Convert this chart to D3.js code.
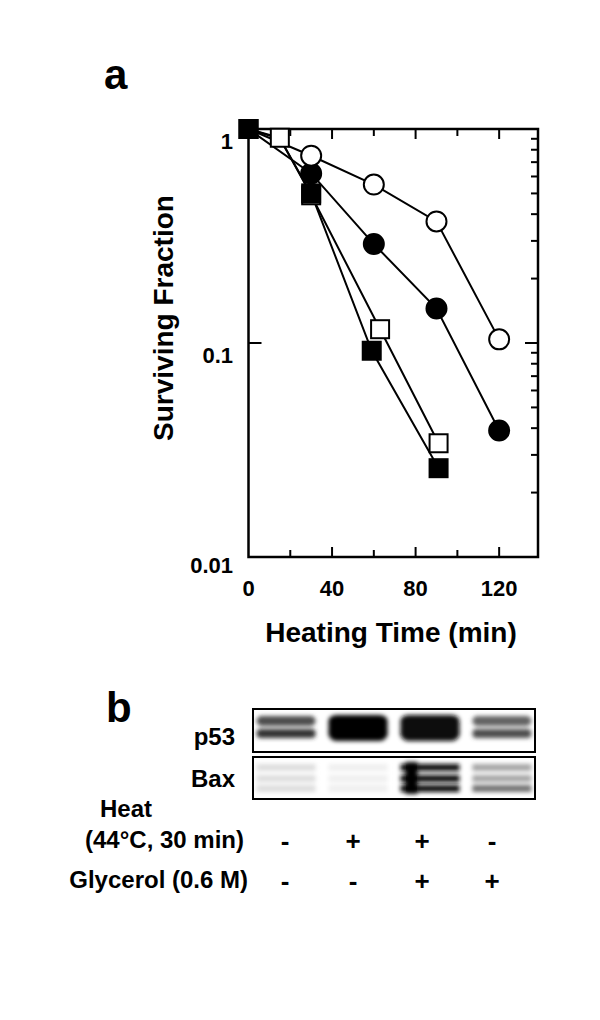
<!DOCTYPE html>
<html><head><meta charset="utf-8">
<script src="https://cdn.jsdelivr.net/npm/d3@7"></script>
<style>body{margin:0;background:#fff}text{font-family:Arial,"Liberation Sans",sans-serif;font-weight:bold;fill:#000}</style>
</head><body><svg id="c" width="600" height="1020"></svg>
<script>
// Panel a data
const timeOpenCircle = [0, 30, 60, 90, 120];
const openCircle = [1, 0.75, 0.55, 0.37, 0.104];
const timeFilledCircle = [0, 30, 60, 90, 120];
const filledCircle = [1, 0.62, 0.29, 0.145, 0.039];
const timeOpenSquare = [0, 15, 30, 63, 91];
const openSquare = [1, 0.91, 0.49, 0.116, 0.034];
const timeFilledSquare = [0, 15, 30, 59, 91];
const filledSquare = [1, 0.9, 0.5, 0.092, 0.026];
const xTicks = [0, 40, 80, 120];
const yTicks = [1, 0.1, 0.01];
// Panel b data
const lanes = ["1", "2", "3", "4"];
const heatSigns = ["-", "+", "+", "-"];
const glycerolSigns = ["-", "-", "+", "+"];
const p53Intensity = [0.8, 1.0, 0.95, 0.72];
const baxIntensity = [0.22, 0.12, 0.95, 0.45];

const svg = d3.select("#c");
const x = d3.scaleLinear().domain([0, 138.6]).range([248.5, 538]);
const y = d3.scaleLog().domain([0.01, 1]).range([557, 129]);

svg.append("text").attr("x", 104).attr("y", 89).attr("font-size", 42).text("a");

svg.append("rect").attr("x", x(0)).attr("y", y(1)).attr("width", x(138.6) - x(0)).attr("height", y(0.01) - y(1))
  .attr("fill", "none").attr("stroke", "#000").attr("stroke-width", 2.5);

d3.range(20, 138, 20).forEach(t => {
  const L = t % 40 === 0 ? 10 : 7;
  svg.append("line").attr("x1", x(t)).attr("x2", x(t)).attr("y1", y(0.01)).attr("y2", y(0.01) - L).attr("stroke", "#000").attr("stroke-width", 2);
  svg.append("line").attr("x1", x(t)).attr("x2", x(t)).attr("y1", y(1)).attr("y2", y(1) + L).attr("stroke", "#000").attr("stroke-width", 2);
});
const yt = [];
[0.01, 0.1].forEach(d => { for (let k = 1; k <= 9; k++) yt.push(d * k); });
yt.push(1);
yt.forEach(v => {
  const major = Math.abs(Math.log10(v) - Math.round(Math.log10(v))) < 1e-6;
  const L = major ? 13 : 7;
  svg.append("line").attr("x1", x(138.6)).attr("x2", x(138.6) - L).attr("y1", y(v)).attr("y2", y(v)).attr("stroke", "#000").attr("stroke-width", 2);
  if (major) svg.append("line").attr("x1", x(0)).attr("x2", x(0) + L).attr("y1", y(v)).attr("y2", y(v)).attr("stroke", "#000").attr("stroke-width", 2);
});
xTicks.forEach(t => svg.append("text").attr("x", x(t)).attr("y", 596).attr("text-anchor", "middle").attr("font-size", 22).text(t));
yTicks.forEach(v => svg.append("text").attr("x", 233).attr("y", y(v) + (v === 0.01 ? 16 : 20)).attr("text-anchor", "end").attr("font-size", 22).text(v));

svg.append("text").attr("x", 391).attr("y", 642).attr("text-anchor", "middle").attr("font-size", 28).text("Heating Time (min)");
svg.append("text").attr("transform", "translate(173,318) rotate(-90)").attr("text-anchor", "middle").attr("font-size", 28).text("Surviving Fraction");

const line = d3.line().x(d => x(d[0])).y(d => y(d[1]));
const series = [
  {t: timeOpenSquare, v: openSquare, shape: "sq", fill: "#fff"},
  {t: timeFilledSquare, v: filledSquare, shape: "sq", fill: "#000"},
  {t: timeFilledCircle, v: filledCircle, shape: "ci", fill: "#000"},
  {t: timeOpenCircle, v: openCircle, shape: "ci", fill: "#fff"}
];
series.forEach(s => {
  const pts = s.t.map((t, i) => [t, s.v[i]]);
  svg.append("path").attr("d", line(pts)).attr("fill", "none").attr("stroke", "#000").attr("stroke-width", 2);
});
series.forEach(s => {
  s.t.forEach((t, i) => {
    const v = s.v[i];
    if (s.shape === "ci") {
      if (i === 0) return;
      svg.append("circle").attr("cx", x(t)).attr("cy", y(v)).attr("r", 10).attr("fill", s.fill).attr("stroke", "#000").attr("stroke-width", 2);
    } else {
      if (i === 1 && s.fill === "#000") return;
      svg.append("rect").attr("x", x(t) - 9).attr("y", y(v) - 9).attr("width", 18).attr("height", 18).attr("fill", s.fill).attr("stroke", "#000").attr("stroke-width", 2);
    }
  });
});

// Panel b
svg.append("text").attr("x", 106).attr("y", 722).attr("font-size", 42).text("b");
const defs = svg.append("defs");
defs.append("filter").attr("id", "bl").attr("x", "-20%").attr("y", "-50%").attr("width", "140%").attr("height", "200%")
  .append("feGaussianBlur").attr("stdDeviation", 2.2);
const lx = d3.scaleBand().domain(lanes).range([253, 535]).paddingInner(0.18).paddingOuter(0.05);
const grey = v => d3.interpolateGreys(Math.min(1, v));
const gb = svg.append("g").attr("filter", "url(#bl)");
lanes.forEach((l, i) => {
  const a = p53Intensity[i];
  gb.append("rect").attr("x", lx(l)).attr("y", 716).attr("width", lx.bandwidth()).attr("height", 10).attr("rx", 5).attr("fill", grey(a * 0.95));
  gb.append("rect").attr("x", lx(l)).attr("y", 729).attr("width", lx.bandwidth()).attr("height", 9).attr("rx", 4).attr("fill", grey(a * 1.05));
  if (a > 0.9) gb.append("rect").attr("x", lx(l)).attr("y", 715).attr("width", lx.bandwidth()).attr("height", 26).attr("rx", 8).attr("fill", grey(a));
  const b = baxIntensity[i];
  [764, 775, 785].forEach((yy, k) => gb.append("rect").attr("x", lx(l)).attr("y", yy).attr("width", lx.bandwidth()).attr("height", 7).attr("fill", grey(b * (k === 2 && i === 3 ? 1.4 : 1))));
  if (b > 0.9) gb.append("rect").attr("x", lx(l) + 5).attr("y", 762).attr("width", 12).attr("height", 32).attr("fill", "#000");
});
svg.append("rect").attr("x", 253).attr("y", 709).attr("width", 282).attr("height", 43).attr("fill", "none").attr("stroke", "#000").attr("stroke-width", 2);
svg.append("rect").attr("x", 253).attr("y", 757).attr("width", 282).attr("height", 42).attr("fill", "none").attr("stroke", "#000").attr("stroke-width", 2);
svg.append("text").attr("x", 235).attr("y", 745).attr("text-anchor", "end").attr("font-size", 24).text("p53");
svg.append("text").attr("x", 235).attr("y", 787).attr("text-anchor", "end").attr("font-size", 24).text("Bax");
svg.append("text").attr("x", 126).attr("y", 817).attr("text-anchor", "middle").attr("font-size", 24).text("Heat");
svg.append("text").attr("x", 244).attr("y", 848).attr("text-anchor", "end").attr("font-size", 24).text("(44°C, 30 min)");
svg.append("text").attr("x", 248).attr("y", 888).attr("text-anchor", "end").attr("font-size", 24).text("Glycerol (0.6 M)");
const sx = [285, 353, 422, 492];
lanes.forEach((l, i) => {
  svg.append("text").attr("x", sx[i]).attr("y", 850).attr("text-anchor", "middle").attr("font-size", 26).text(heatSigns[i]);
  svg.append("text").attr("x", sx[i]).attr("y", 890).attr("text-anchor", "middle").attr("font-size", 26).text(glycerolSigns[i]);
});
</script></body></html>
